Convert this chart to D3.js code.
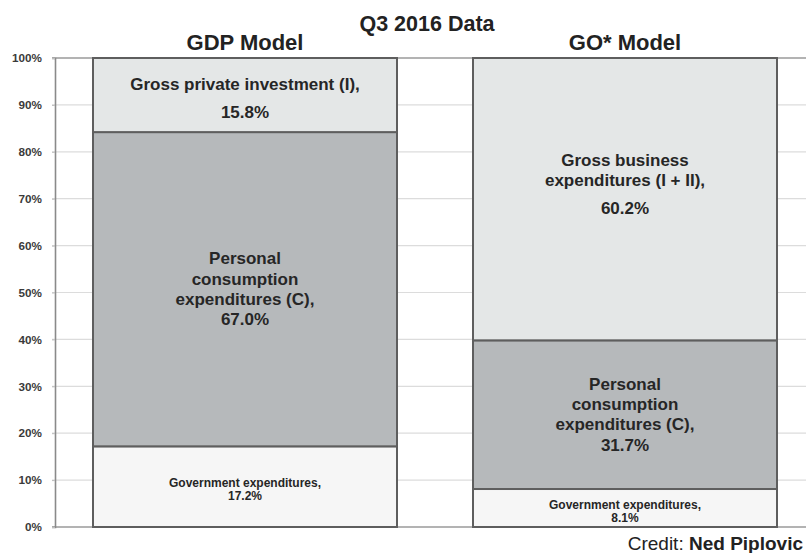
<!DOCTYPE html>
<html>
<head>
<meta charset="utf-8">
<script src="https://cdn.jsdelivr.net/npm/d3@7"></script>
<style>
  html, body { margin: 0; padding: 0; background: #fff; }
  svg { display: block; font-family: "Liberation Sans", Arial, Helvetica, sans-serif; }
</style>
</head>
<body>
<svg id="chart" width="806" height="553"></svg>
<script>
// Q3 2016 composition of output: GDP model vs GO* model (shares of total, %)
const models = ["GDP Model", "GO* Model"];
const segmentKeys = ["government", "consumption", "business"];
const governmentShare = [17.2, 8.1];
const consumptionShare = [67.0, 31.7];
const businessShare = [15.8, 60.2];
const yTickValues = [0, 10, 20, 30, 40, 50, 60, 70, 80, 90, 100];

// Label text for each segment of each bar (value line appended from the data)
const governmentText = [["Government expenditures,"], ["Government expenditures,"]];
const consumptionText = [["Personal", "consumption", "expenditures (C),"], ["Personal", "consumption", "expenditures (C),"]];
const businessText = [["Gross private investment (I),"], ["Gross business", "expenditures (I + II),"]];

const W = 806, H = 553;
const margin = { top: 58, left: 55, bottom: 26 };
const svg = d3.select("#chart");

const rows = models.map((m, i) => ({
  model: m,
  government: governmentShare[i],
  consumption: consumptionShare[i],
  business: businessShare[i]
}));
const stacked = d3.stack().keys(segmentKeys)(rows);

const x = d3.scaleBand().domain(models).range([margin.left, 815])
  .paddingInner(0.2).paddingOuter(0.1);
const y = d3.scaleLinear().domain([0, 100]).range([H - margin.bottom, margin.top]);

const fills = { government: "#f6f6f6", consumption: "#b6b9bb", business: "#e4e7e7" };

// Horizontal gridlines across the full width
const grid = svg.append("g").attr("class", "grid");
grid.selectAll("line").data(yTickValues).join("line")
  .attr("x1", margin.left - 3).attr("x2", W)
  .attr("y1", d => y(d)).attr("y2", d => y(d))
  .attr("stroke", d => (d === 0 || d === 100) ? "#9a9a9a" : "#dcdcdc")
  .attr("stroke-width", d => (d === 0 || d === 100) ? 1.6 : 1.2);

// Y axis with percentage labels
const yAxis = d3.axisLeft(y).tickValues(yTickValues).tickFormat(d => d + "%")
  .tickSize(3).tickPadding(10);
const ag = svg.append("g").attr("transform", `translate(${margin.left},0)`).call(yAxis);
ag.select(".domain").attr("stroke", "#8a8a8a").attr("stroke-width", 1.6);
ag.selectAll(".tick line").attr("stroke", "#bdbdbd");
ag.selectAll(".tick text")
  .attr("fill", "#3a3a3a").attr("font-size", 11.7).attr("font-weight", "bold")
  .attr("font-family", "'Liberation Sans', Arial, sans-serif");

// Stacked bar segments
const layers = svg.append("g").selectAll("g").data(stacked).join("g")
  .attr("fill", d => fills[d.key]);
layers.selectAll("rect").data(d => d).join("rect")
  .attr("x", d => x(d.data.model))
  .attr("width", x.bandwidth())
  .attr("y", d => y(d[1]))
  .attr("height", d => y(d[0]) - y(d[1]))
  .attr("stroke", "#5e5e5e")
  .attr("stroke-width", 2);

// Segment labels
const textSets = { government: governmentText, consumption: consumptionText, business: businessText };
const labelStyle = {
  government: { size: 12, lh: 13, valueGap: 0 },
  consumption: { size: 17, lh: 20.3, valueGap: 0 },
  business: { size: 17, lh: 20.3, valueGap: 8 }
};
// vertical shift of each label block relative to its segment centre [GDP, GO*]
const labelShift = { government: [1.5, 2], consumption: [0, 0], business: [3.5, -14.5] };

const labels = svg.append("g").attr("fill", "#262626").attr("font-weight", "bold")
  .attr("text-anchor", "middle");
stacked.forEach(layer => {
  const st = labelStyle[layer.key];
  layer.forEach((seg, i) => {
    const value = seg[1] - seg[0];
    const lines = textSets[layer.key][i].concat([value.toFixed(1) + "%"]);
    const offsets = lines.map((_, j) => j * st.lh + (j === lines.length - 1 ? st.valueGap : 0));
    const blockH = offsets[offsets.length - 1];
    const cx = x(seg.data.model) + x.bandwidth() / 2;
    const cy = (y(seg[0]) + y(seg[1])) / 2 + labelShift[layer.key][i];
    const t = labels.append("text").attr("font-size", st.size);
    lines.forEach((ln, j) => {
      t.append("tspan").attr("x", cx)
        .attr("y", cy - blockH / 2 + offsets[j] + 5.5)
        .text(ln);
    });
  });
});

// Titles
svg.append("text").attr("x", 427).attr("y", 31).attr("text-anchor", "middle")
  .attr("font-size", 21.5).attr("font-weight", "bold").attr("fill", "#222")
  .text("Q3 2016 Data");
svg.append("g").selectAll("text").data(models).join("text")
  .attr("x", d => x(d) + x.bandwidth() / 2)
  .attr("y", 50).attr("text-anchor", "middle")
  .attr("font-size", 22).attr("font-weight", "bold").attr("fill", "#222")
  .text(d => d);

// Credit line
const credit = svg.append("text").attr("x", 803).attr("y", 550).attr("text-anchor", "end")
  .attr("font-size", 19).attr("fill", "#222");
credit.append("tspan").text("Credit: ");
credit.append("tspan").attr("font-weight", "bold").text("Ned Piplovic");
</script>
</body>
</html>
